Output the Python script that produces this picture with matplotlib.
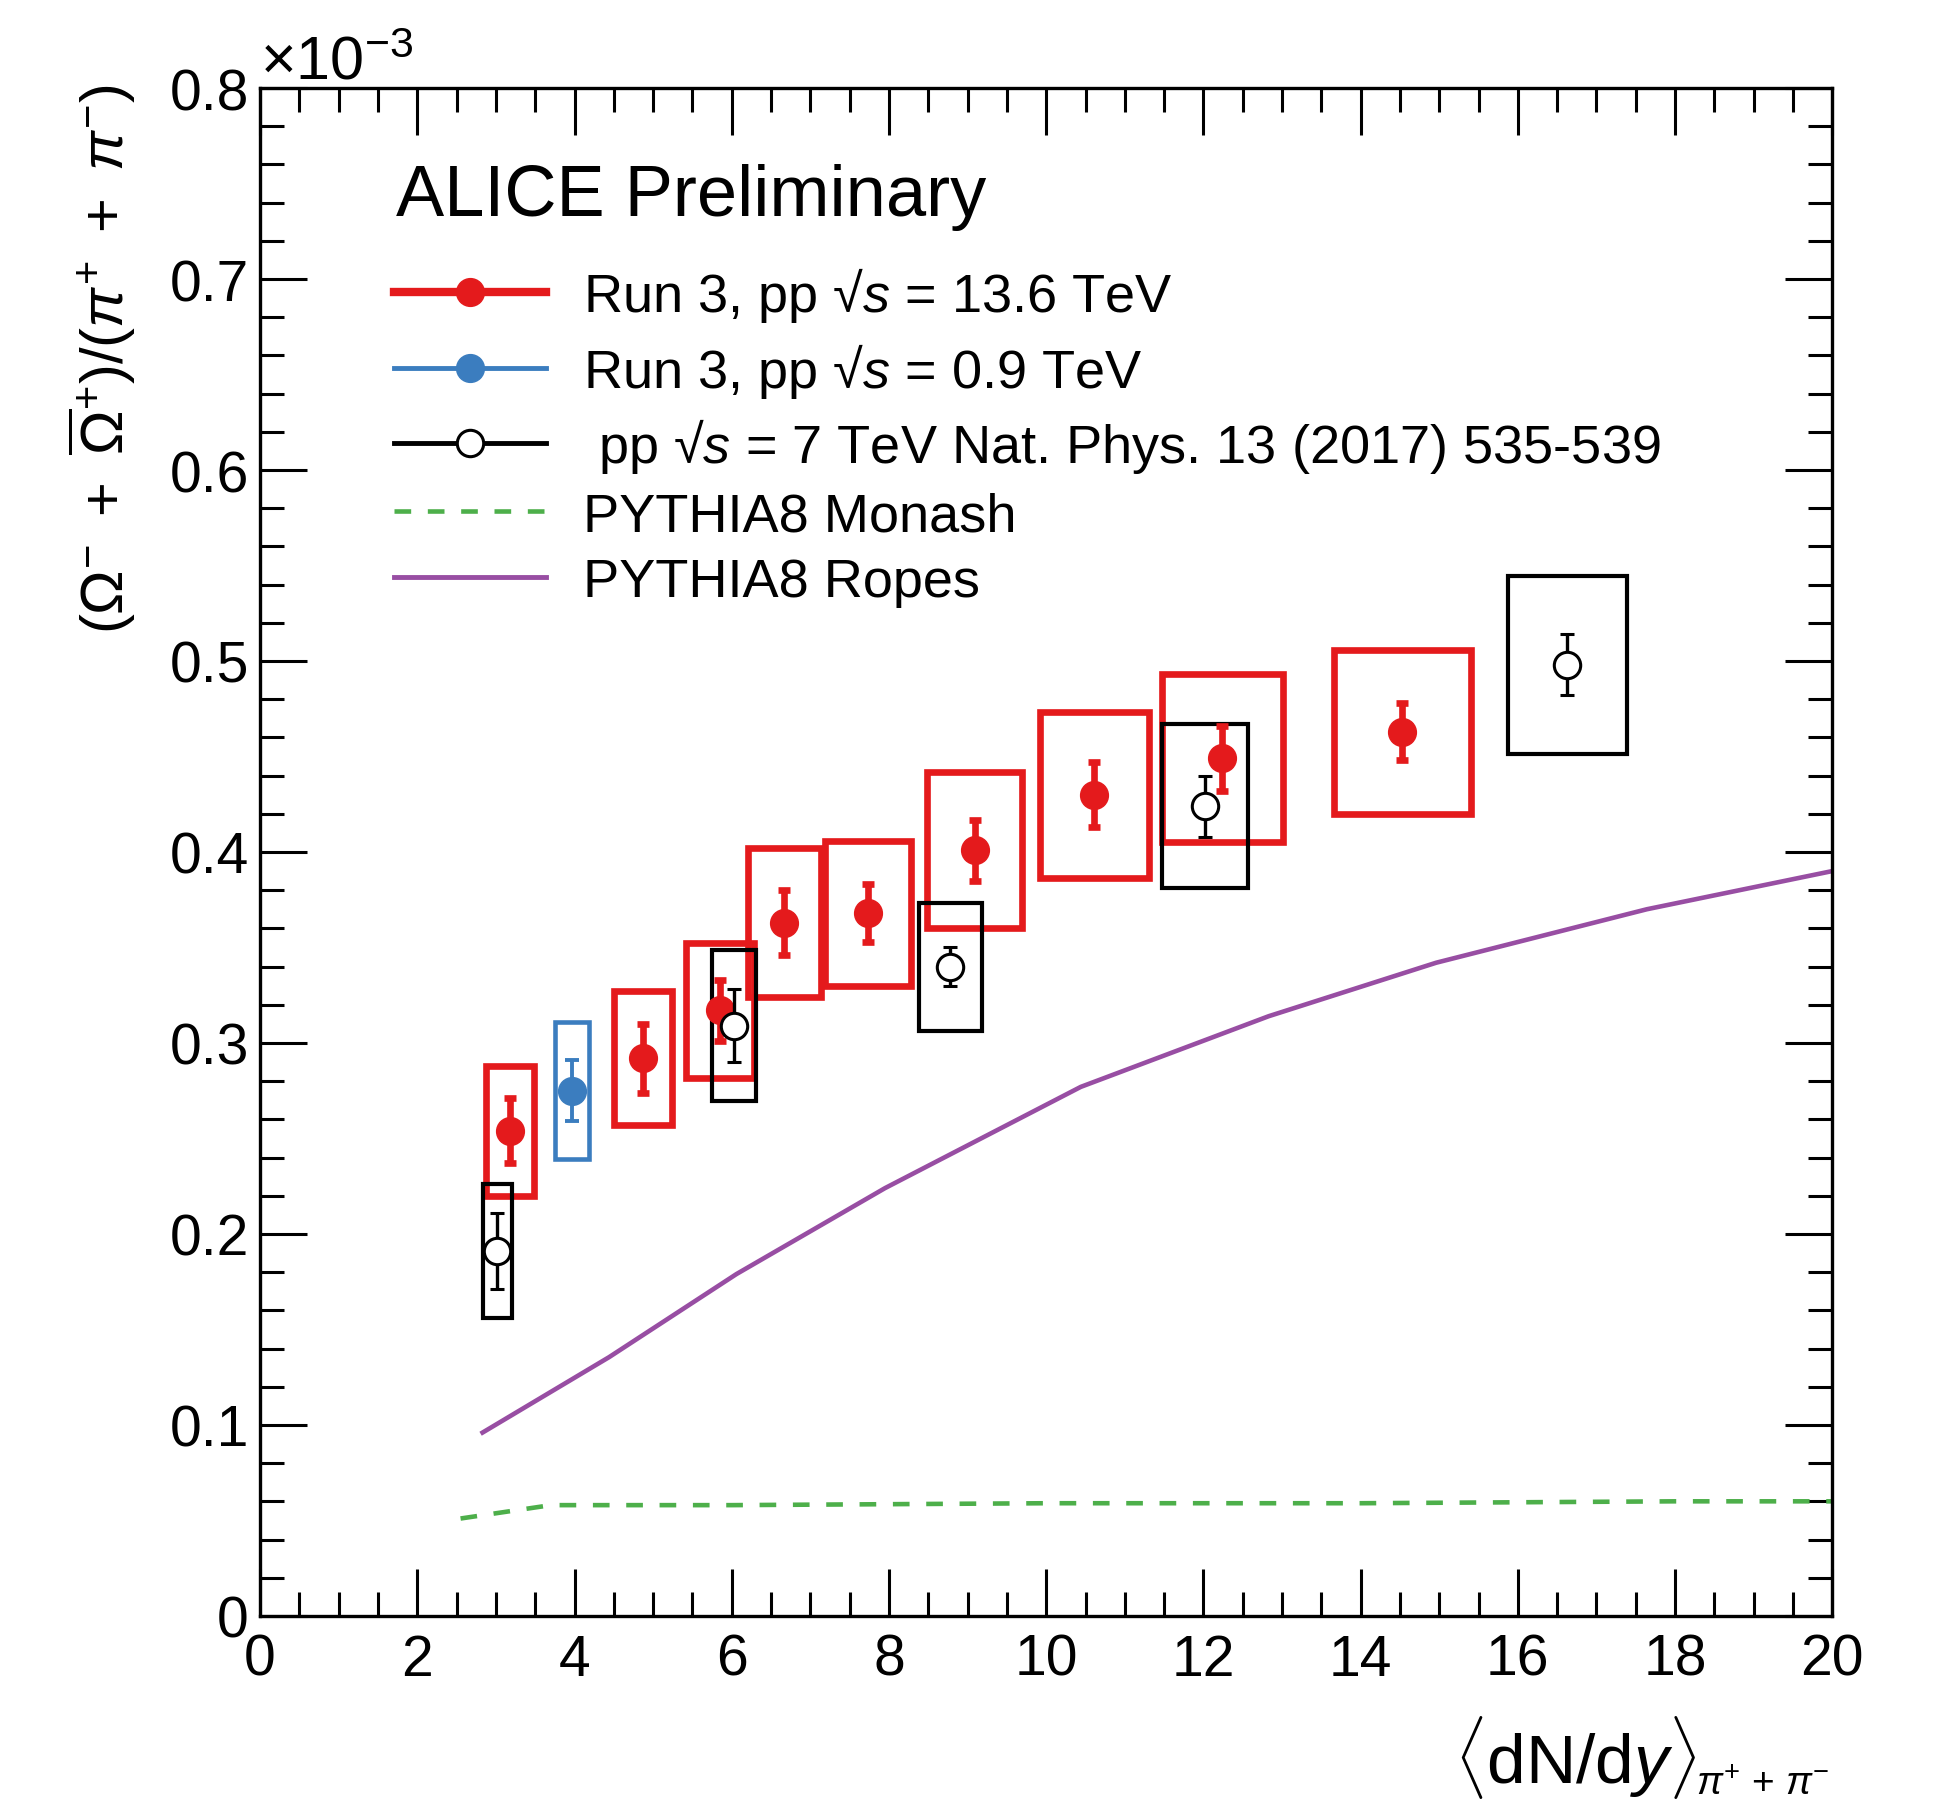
import matplotlib
matplotlib.use("Agg")
from matplotlib import pyplot as plt
from matplotlib.patches import Rectangle
from matplotlib.lines import Line2D
from matplotlib.ticker import MultipleLocator

plt.rcParams['font.family'] = ['Liberation Sans', 'DejaVu Sans']
plt.rcParams['mathtext.fontset'] = 'custom'
plt.rcParams['mathtext.rm'] = 'Liberation Sans'
plt.rcParams['mathtext.it'] = 'Liberation Sans:italic'
plt.rcParams['mathtext.bf'] = 'Liberation Sans:bold'
plt.rcParams['lines.scale_dashes'] = False

# Run 3, pp 13.6 TeV (values in units of 1e-3)
red_x = [3.18, 4.87, 5.85, 6.67, 7.73, 9.09, 10.61, 12.24, 14.53]
red_y = [0.254, 0.292, 0.317, 0.363, 0.368, 0.401, 0.430, 0.449, 0.463]
red_stat = [0.017, 0.018, 0.016, 0.017, 0.015, 0.016, 0.017, 0.017, 0.015]
red_sys = [0.034, 0.035, 0.0355, 0.039, 0.038, 0.041, 0.0435, 0.044, 0.043]
red_dx = [0.30, 0.37, 0.43, 0.465, 0.545, 0.605, 0.695, 0.77, 0.875]

# Run 3, pp 0.9 TeV
blue_x = [3.97]
blue_y = [0.275]
blue_stat = [0.016]
blue_sys = [0.036]
blue_dx = [0.215]

# pp 7 TeV, Nat. Phys. 13 (2017) 535-539
blk_x = [3.02, 6.03, 8.78, 12.02, 16.63]
blk_y = [0.191, 0.309, 0.340, 0.424, 0.498]
blk_stat = [0.020, 0.019, 0.010, 0.016, 0.016]
blk_sys = [0.035, 0.0395, 0.0335, 0.043, 0.0465]
blk_dx = [0.19, 0.275, 0.40, 0.545, 0.76]

# PYTHIA8 curves
monash_x = [2.55, 3.7, 6.0, 10.0, 14.0, 18.0, 20.0]
monash_y = [0.051, 0.058, 0.058, 0.059, 0.059, 0.060, 0.060]
ropes_x = [2.83, 4.44, 6.06, 7.95, 10.44, 12.83, 14.96, 17.64, 20.0]
ropes_y = [0.096, 0.1355, 0.179, 0.224, 0.277, 0.314, 0.342, 0.370, 0.390]

RED = '#e41a1c'
BLUE = '#3b7dbf'
GREEN = '#4daf4a'
PURPLE = '#984ea3'

fig = plt.figure(figsize=(19.41, 18.06), dpi=100)
ax = fig.add_axes([0.134, 0.1047, 0.810, 0.846])


def boxes(xs, ys, dxs, sys, color, lw, z):
    for x, y, dx, s in zip(xs, ys, dxs, sys):
        ax.add_patch(Rectangle((x - dx, y - s), 2 * dx, 2 * s, fill=False,
                               edgecolor=color, linewidth=lw, zorder=z))


ax.plot(monash_x, monash_y, color=GREEN, lw=3.3, dashes=(12, 12), zorder=2)
ax.plot(ropes_x, ropes_y, color=PURPLE, lw=3.3, zorder=2)

boxes(red_x, red_y, red_dx, red_sys, RED, 4.8, 3)
boxes(blk_x, blk_y, blk_dx, blk_sys, 'black', 3.0, 3)
boxes(blue_x, blue_y, blue_dx, blue_sys, BLUE, 3.3, 3)

ax.errorbar(red_x, red_y, yerr=red_stat, fmt='o', color=RED, ms=20,
            elinewidth=4.8, capsize=4, capthick=4.8, zorder=5)
ax.errorbar(blue_x, blue_y, yerr=blue_stat, fmt='o', color=BLUE, ms=20,
            elinewidth=2.8, capsize=5, capthick=2.8, zorder=5)
ax.errorbar(blk_x, blk_y, yerr=blk_stat, fmt='o', color='black', ms=19,
            mfc='white', mew=2.2, elinewidth=2.4, capsize=5, capthick=2.4,
            zorder=6)

ax.set_xlim(0, 20)
ax.set_ylim(0, 0.8)
ax.xaxis.set_major_locator(MultipleLocator(2))
ax.xaxis.set_minor_locator(MultipleLocator(0.5))
ax.yaxis.set_minor_locator(MultipleLocator(0.02))
ax.set_yticks([0, 0.1, 0.2, 0.3, 0.4, 0.5, 0.6, 0.7, 0.8])
ax.set_yticklabels(['0', '0.1', '0.2', '0.3', '0.4', '0.5', '0.6', '0.7', '0.8'])
ax.tick_params(which='both', direction='in', top=True, right=True,
               width=2.2, labelsize=41)
ax.tick_params(which='major', length=34)
ax.tick_params(which='minor', length=17)
ax.tick_params(axis='x', pad=12)
ax.tick_params(axis='y', pad=8)
for sp in ax.spines.values():
    sp.set_linewidth(2.4)

ax.text(0.0, 1.006, r'$\times$10$^{-3}$', transform=ax.transAxes,
        fontsize=44, ha='left', va='baseline')
ax.text(-0.101, 1.003, r'$(\Omega^{-}\ +\ \overline{\Omega}^{+})/(\pi^{+}\ +\ \pi^{-})$',
        transform=ax.transAxes, rotation=90, fontsize=43, ha='center', va='top')
ax.text(0.9135, -0.109, r'$\langle$dN/d$y\rangle$',
        transform=ax.transAxes, fontsize=50, ha='right', va='baseline')
ax.text(0.9135, -0.1165, r'$\pi^{+}$ + $\pi^{-}$',
        transform=ax.transAxes, fontsize=28, ha='left', va='baseline')

ax.text(0.0865, 0.929, 'ALICE Preliminary', transform=ax.transAxes,
        fontsize=52, ha='left', va='center')

handles = [
    Line2D([], [], color=RED, lw=6, marker='o', ms=20),
    Line2D([], [], color=BLUE, lw=3.5, marker='o', ms=20),
    Line2D([], [], color='black', lw=3.5, marker='o', ms=19, mfc='white', mew=2.2),
    Line2D([], [], color=GREEN, lw=3.3, dashes=(12, 12)),
    Line2D([], [], color=PURPLE, lw=3.5),
]
labels = [
    'Run 3, pp \u221a$s$ = 13.6 TeV',
    'Run 3, pp \u221a$s$ = 0.9 TeV',
    ' pp \u221a$s$ = 7 TeV Nat. Phys. 13 (2017) 535-539',
    'PYTHIA8 Monash',
    'PYTHIA8 Ropes',
]
ax.legend(handles, labels, loc='upper left', bbox_to_anchor=(0.0852, 0.884),
          frameon=False, fontsize=39, handlelength=2.8, handletextpad=0.69,
          labelspacing=0.3, borderpad=0.0, borderaxespad=0.0)

fig.savefig('out.png', dpi=100)
